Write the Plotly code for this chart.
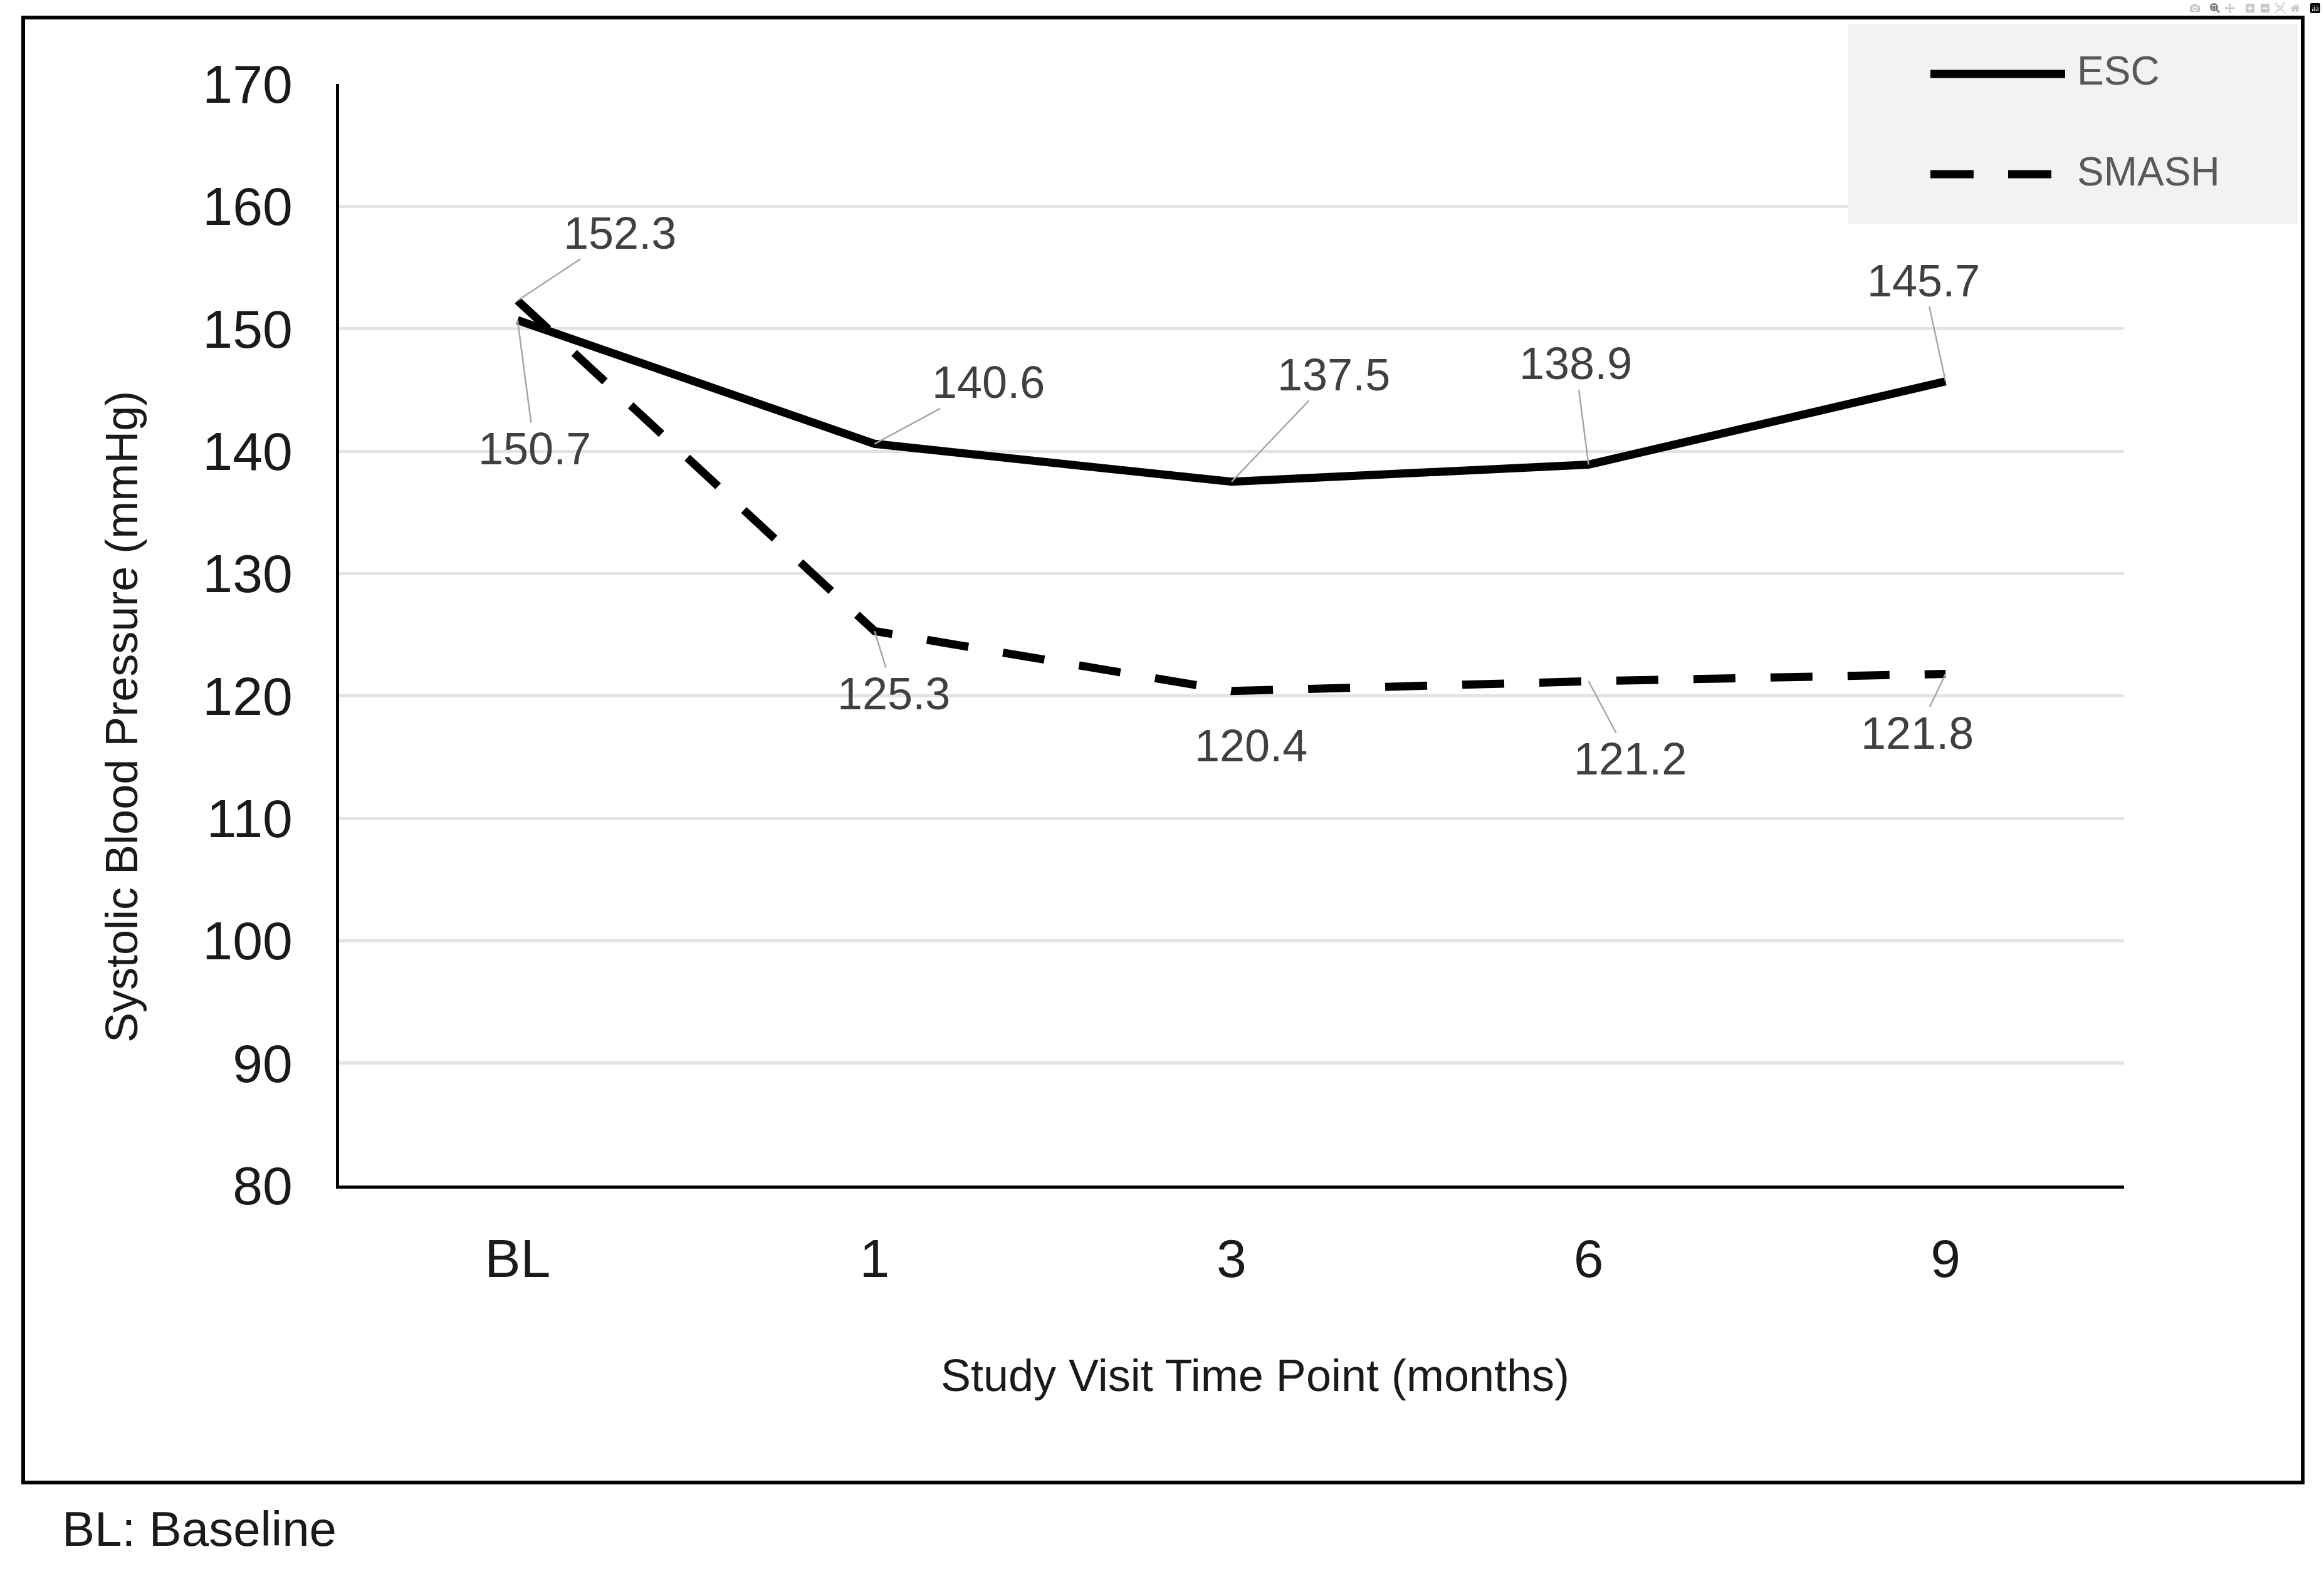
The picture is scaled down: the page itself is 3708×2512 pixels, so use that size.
import plotly.graph_objects as go

# ---------------- data ----------------
categories = ["BL", "1", "3", "6", "9"]
esc_values = [150.7, 140.6, 137.5, 138.9, 145.7]
smash_values = [152.3, 125.3, 120.4, 121.2, 121.8]
y_ticks = [80, 90, 100, 110, 120, 130, 140, 150, 160, 170]
series_names = ["ESC", "SMASH"]
x_title = "Study Visit Time Point (months)"
y_title = "Systolic Blood Pressure (mmHg)"
footnote = "BL: Baseline"

# ---------------- label placement (pixel offsets from points) ----------------
esc_label_offsets = [(27, 205), (182, -98), (163, -171), (-21, -161), (-35, -161)]
smash_label_offsets = [(163, -108), (31, 100), (31, 87), (66, 124), (-45, 94)]
esc_leader = [True, True, True, True, True]
smash_leader = [True, True, False, True, True]

# ---------------- geometry helpers ----------------
W_FIG, H_FIG = 3708, 2512
L, R, T, B = 541, 3389, 134, 1892
PW, PH = R - L, B - T


def fx(px):
    return (px - L) / PW


def fy(py):
    return (B - py) / PH


FONT = "Liberation Sans, Arial, sans-serif"
LINE_W = 13
DASH = "67px,56px"

fig = go.Figure()
fig.add_trace(go.Scatter(x=categories, y=esc_values, mode="lines", name=series_names[0],
                         line=dict(color="black", width=LINE_W), showlegend=False))
fig.add_trace(go.Scatter(x=categories, y=smash_values, mode="lines", name=series_names[1],
                         line=dict(color="black", width=LINE_W, dash=DASH), showlegend=False))

annotations = []
for vals, offs, leaders in [(esc_values, esc_label_offsets, esc_leader),
                            (smash_values, smash_label_offsets, smash_leader)]:
    # category axis: annotation x given as the category index
    for i, (v, (ax, ay), ld) in enumerate(zip(vals, offs, leaders)):
        annotations.append(dict(
            x=i, y=v, xref="x", yref="y", text=f"{v:.1f}", showarrow=True,
            ax=ax, ay=ay, arrowhead=0, arrowwidth=2.5, standoff=0,
            arrowcolor="#a6a6a6" if ld else "rgba(0,0,0,0)",
            font=dict(family=FONT, size=72, color="#404040")))

# axis titles
annotations.append(dict(x=fx(2002), y=fy(2195), xref="paper", yref="paper", text=x_title,
                        showarrow=False, xanchor="center", yanchor="middle",
                        font=dict(family=FONT, size=72, color="#1a1a1a")))
annotations.append(dict(x=fx(194), y=fy(1144), xref="paper", yref="paper", text=y_title,
                        showarrow=False, xanchor="center", yanchor="middle", textangle=-90,
                        font=dict(family=FONT, size=72, color="#1a1a1a")))
# footnote
annotations.append(dict(x=fx(97), y=fy(2440), xref="paper", yref="paper", text=footnote,
                        showarrow=False, xanchor="left", yanchor="middle",
                        font=dict(family=FONT, size=78, color="#1a1a1a")))
# legend texts
annotations.append(dict(x=fx(3312), y=fy(113), xref="paper", yref="paper", text=series_names[0],
                        showarrow=False, xanchor="left", yanchor="middle",
                        font=dict(family=FONT, size=64, color="#595959")))
annotations.append(dict(x=fx(3312), y=fy(274), xref="paper", yref="paper", text=series_names[1],
                        showarrow=False, xanchor="left", yanchor="middle",
                        font=dict(family=FONT, size=64, color="#595959")))

shapes = [
    # outer frame
    dict(type="rect", xref="paper", yref="paper", x0=fx(37), x1=fx(3674), y0=fy(2366), y1=fy(28),
         line=dict(color="black", width=6), fillcolor="rgba(0,0,0,0)", layer="above"),
    # legend box
    dict(type="rect", xref="paper", yref="paper", x0=fx(2948), x1=fx(3666), y0=fy(357), y1=fy(38),
         line=dict(width=0), fillcolor="#f2f2f2", layer="above"),
    # legend samples
    dict(type="line", xref="paper", yref="paper", x0=fx(3080), x1=fx(3295), y0=fy(118), y1=fy(118),
         line=dict(color="black", width=LINE_W), layer="above"),
    dict(type="line", xref="paper", yref="paper", x0=fx(3080), x1=fx(3274), y0=fy(278), y1=fy(278),
         line=dict(color="black", width=LINE_W, dash="69px,55px"), layer="above"),
]

fig.update_layout(
    width=W_FIG, height=H_FIG,
    margin=dict(l=L, r=W_FIG - R, t=T, b=H_FIG - B, pad=0),
    paper_bgcolor="white", plot_bgcolor="white",
    font=dict(family=FONT, color="#1a1a1a"),
    showlegend=False,
    xaxis=dict(type="category", range=[-0.5, 4.5], showgrid=False, showline=True,
               linecolor="black", linewidth=5, ticks="", zeroline=False,
               tickfont=dict(family=FONT, size=86, color="#1a1a1a"), ticklabelstandoff=38),
    yaxis=dict(range=[80, 170], tickvals=y_ticks, showgrid=True, gridcolor="#e3e3e3", gridwidth=5,
               showline=True, linecolor="black", linewidth=5, ticks="", zeroline=False,
               tickfont=dict(family=FONT, size=86, color="#1a1a1a"), ticklabelstandoff=52),
    annotations=annotations,
    shapes=shapes,
)

fig.write_html("out.html", post_script="document.body.style.margin='0';")
